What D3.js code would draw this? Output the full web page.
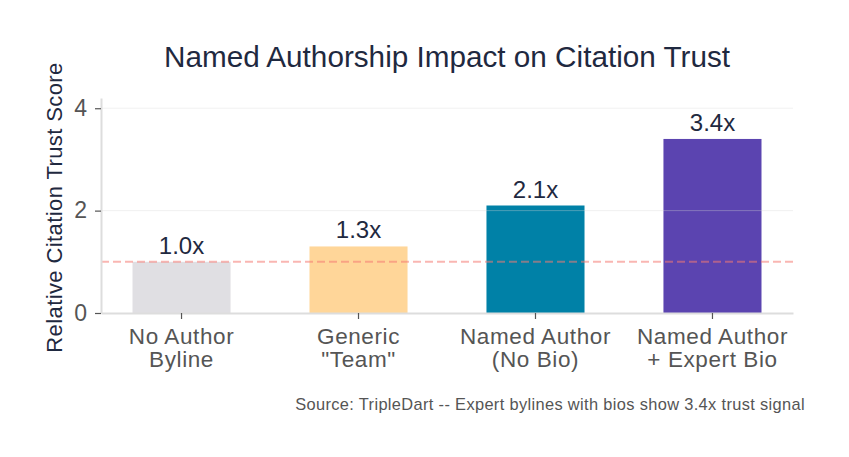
<!DOCTYPE html>
<html>
<head>
<meta charset="utf-8">
<script src="https://cdn.jsdelivr.net/npm/d3@7"></script>
<style>
  body { margin: 0; background: #fff; }
  svg { display: block; font-family: "Liberation Sans", Arial, Helvetica, sans-serif; }
</style>
</head>
<body>
<svg id="chart"></svg>
<script>
const categories = [["No Author", "Byline"], ["Generic", "\"Team\""], ["Named Author", "(No Bio)"], ["Named Author", "+ Expert Bio"]];
const scores = [1.0, 1.3, 2.1, 3.4];
const barColors = ["#e0dfe3", "#ffd699", "#0081a7", "#5b44b0"];
const yTicks = [0, 2, 4];
const baseline = 1.0;

const width = 849, height = 457;
const margin = { top: 98, right: 56, bottom: 144, left: 101 };

const svg = d3.select("#chart")
    .attr("width", width)
    .attr("height", height);

const x = d3.scaleBand()
    .domain(d3.range(categories.length))
    .range([margin.left, width - margin.right])
    .paddingInner(0.446)
    .paddingOuter(0.178);

const y = d3.scaleLinear()
    .domain([0, 4.2])
    .range([height - margin.bottom, margin.top]);

// Title
svg.append("text")
    .attr("x", 447)
    .attr("y", 67)
    .attr("text-anchor", "middle")
    .attr("font-size", "29.7px")
    .attr("fill", "#1f2940")
    .text("Named Authorship Impact on Citation Trust");

// Bars
svg.selectAll(".bar")
    .data(scores)
    .enter()
    .append("rect")
    .attr("class", "bar")
    .attr("x", (d, i) => x(i))
    .attr("y", d => y(d))
    .attr("width", x.bandwidth())
    .attr("height", d => y(0) - y(d))
    .attr("fill", (d, i) => barColors[i]);

// Faint grid, drawn over the bars
svg.append("g")
    .selectAll("line")
    .data(yTicks.filter(t => t > 0))
    .enter()
    .append("line")
    .attr("x1", margin.left)
    .attr("x2", width - margin.right)
    .attr("y1", d => y(d))
    .attr("y2", d => y(d))
    .attr("stroke", "#d8d8d8")
    .attr("stroke-opacity", 0.35)
    .attr("stroke-width", 1);

// Baseline reference at 1.0x
svg.append("line")
    .attr("x1", margin.left)
    .attr("x2", width - margin.right)
    .attr("y1", y(baseline))
    .attr("y2", y(baseline))
    .attr("stroke", "#f47a72")
    .attr("stroke-opacity", 0.55)
    .attr("stroke-width", 2)
    .attr("stroke-dasharray", "8,4");

// Value labels
svg.selectAll(".val")
    .data(scores)
    .enter()
    .append("text")
    .attr("class", "val")
    .attr("x", (d, i) => x(i) + x.bandwidth() / 2)
    .attr("y", d => y(d) - 8)
    .attr("text-anchor", "middle")
    .attr("font-size", "24px")
    .attr("fill", "#1f2940")
    .text(d => d.toFixed(1) + "x");

// Axes
const yAxis = svg.append("g")
    .attr("transform", `translate(${margin.left},0)`)
    .call(d3.axisLeft(y).tickValues(yTicks).tickFormat(d3.format("d"))
        .tickSize(6).tickPadding(8).tickSizeOuter(0));

const xAxis = svg.append("g")
    .attr("transform", `translate(0,${y(0)})`)
    .call(d3.axisBottom(x).tickSize(6).tickSizeOuter(0).tickFormat(""));

yAxis.select(".domain").attr("stroke", "#dddddd").attr("stroke-width", 2);
xAxis.select(".domain").attr("stroke", "#dddddd").attr("stroke-width", 2);
svg.selectAll(".tick line").attr("stroke", "#555").attr("stroke-width", 1.2);
yAxis.selectAll(".tick text")
    .attr("font-size", "23px")
    .attr("font-family", "Liberation Sans, Arial, sans-serif")
    .attr("fill", "#555");

// Two-line category labels
xAxis.selectAll(".tick").each(function(d) {
    const t = d3.select(this).append("text")
        .attr("text-anchor", "middle")
        .attr("font-size", "22.5px")
        .attr("letter-spacing", "0.6px")
        .attr("font-family", "Liberation Sans, Arial, sans-serif")
        .attr("fill", "#555");
    categories[d].forEach((line, k) => {
        t.append("tspan")
            .attr("x", 0)
            .attr("y", 31 + k * 23)
            .text(line);
    });
});

// Y axis title
svg.append("text")
    .attr("transform", `translate(62,${(y(0) + y(4.2)) / 2 + 2}) rotate(-90)`)
    .attr("text-anchor", "middle")
    .attr("font-size", "22px")
    .attr("letter-spacing", "0.4px")
    .attr("fill", "#1f2940")
    .text("Relative Citation Trust Score");

// Source note
svg.append("text")
    .attr("x", 805)
    .attr("y", 410)
    .attr("text-anchor", "end")
    .attr("font-size", "16.4px")
    .attr("letter-spacing", "0.35px")
    .attr("fill", "#555")
    .text("Source: TripleDart -- Expert bylines with bios show 3.4x trust signal");
</script>
</body>
</html>
